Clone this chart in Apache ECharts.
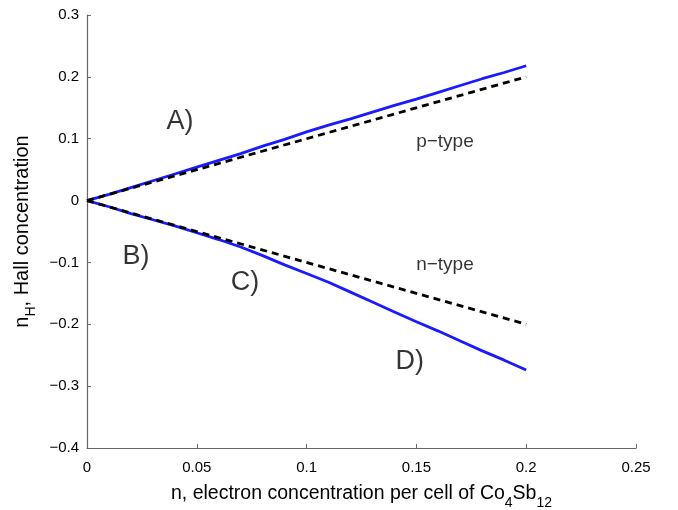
<!DOCTYPE html>
<html>
<head>
<meta charset="utf-8">
<script src="https://cdn.jsdelivr.net/npm/echarts@6/dist/echarts.min.js"></script>
<style>
  html, body { margin: 0; padding: 0; background: #fff; }
  #chart { width: 678px; height: 510px; }
</style>
</head>
<body>
<div id="chart"></div>
<script>
// Electron concentration per cell (x)
const nValues = [0, 0.01, 0.02, 0.03, 0.04, 0.05, 0.06, 0.07, 0.08, 0.09, 0.10,
                 0.11, 0.12, 0.13, 0.14, 0.15, 0.16, 0.17, 0.18, 0.19, 0.20];
// Computed Hall concentration, p-type branch (A)
const hallP = [0, 0.010, 0.021, 0.032, 0.043, 0.054, 0.065, 0.076, 0.088, 0.099, 0.111,
               0.122, 0.132, 0.143, 0.154, 0.164, 0.175, 0.186, 0.197, 0.207, 0.218];
// Computed Hall concentration, n-type branch (B -> C -> D)
const hallN = [0, -0.010, -0.021, -0.031, -0.041, -0.052, -0.063, -0.075, -0.089, -0.104, -0.118,
               -0.132, -0.148, -0.164, -0.180, -0.196, -0.211, -0.227, -0.243, -0.258, -0.274];
// Reference lines n_H = ±n
const refX = [0, 0.2];
const refP = [0, 0.2];
const refN = [0, -0.2];

// Axis ranges and ticks
const xTicks = [0, 0.05, 0.1, 0.15, 0.2, 0.25];
const yTicks = [-0.4, -0.3, -0.2, -0.1, 0, 0.1, 0.2, 0.3];

// Annotation texts placed in data units
const notes = [
  { text: 'A)', x: 0.0424, y: 0.127, size: 27 },
  { text: 'B)', x: 0.0223, y: -0.091, size: 27 },
  { text: 'C)', x: 0.072, y: -0.132, size: 27 },
  { text: 'D)', x: 0.147, y: -0.261, size: 27 },
  { text: 'p\u2212type', x: 0.163, y: 0.095, size: 19 },
  { text: 'n\u2212type', x: 0.163, y: -0.104, size: 19 }
];

const FONT = '"Liberation Sans", Arial, Helvetica, sans-serif';
const fmt = v => {
  const s = String(Math.round(v * 100) / 100);
  return s.replace('-', '\u2212');
};
const zip = (xs, ys) => xs.map((x, i) => [x, ys[i]]);

const titleRich = size => ({
  m: { fontFamily: FONT, fontSize: size, color: '#000', lineHeight: size + 6, verticalAlign: 'top' },
  s: { fontFamily: FONT, fontSize: Math.round(size * 0.72), color: '#000', lineHeight: size + 6,
       verticalAlign: 'top', padding: [Math.round(size * 0.6), 0, 0, 0] }
});

const chart = echarts.init(document.getElementById('chart'), null, { renderer: 'canvas' });

chart.setOption({
  animation: false,
  backgroundColor: '#ffffff',
  grid: { left: 87, right: 42, top: 15, bottom: 62, containLabel: false, outerBoundsMode: 'none' },
  xAxis: {
    type: 'value',
    min: xTicks[0], max: xTicks[xTicks.length - 1], interval: 0.05,
    axisLine: { show: true, onZero: false, lineStyle: { color: '#666', width: 1.2 } },
    axisTick: { show: true, inside: true, length: 4, lineStyle: { color: '#666' } },
    splitLine: { show: false },
    axisLabel: { color: '#000', fontFamily: FONT, fontSize: 15, margin: 12, formatter: fmt },
    name: '{m|n, electron concentration per cell of Co}{s|4}{m|Sb}{s|12}',
    nameLocation: 'middle', nameGap: 36,
    nameTextStyle: { fontFamily: FONT, color: '#000', rich: titleRich(19.5) }
  },
  yAxis: {
    type: 'value',
    min: yTicks[0], max: yTicks[yTicks.length - 1], interval: 0.1,
    axisLine: { show: true, onZero: false, lineStyle: { color: '#666', width: 1.2 } },
    axisTick: { show: true, inside: true, length: 4, lineStyle: { color: '#666' } },
    splitLine: { show: false },
    axisLabel: { color: '#000', fontFamily: FONT, fontSize: 15, margin: 8, formatter: fmt },
    name: '{m|n}{s|H}{m|, Hall concentration}',
    nameLocation: 'middle', nameRotate: 90, nameGap: 42,
    nameTextStyle: { fontFamily: FONT, color: '#000', rich: titleRich(20) }
  },
  series: [
    {
      name: 'p-type', type: 'line', data: zip(nValues, hallP),
      showSymbol: false, symbol: 'none', smooth: false,
      lineStyle: { color: '#1a1aff', width: 2.8 }, z: 3
    },
    {
      name: 'n-type', type: 'line', data: zip(nValues, hallN),
      showSymbol: false, symbol: 'none', smooth: false,
      lineStyle: { color: '#1a1aff', width: 2.8 }, z: 3
    },
    {
      name: 'ref p', type: 'line', data: zip(refX, refP),
      showSymbol: false, symbol: 'none',
      lineStyle: { color: '#000', width: 2.8, type: [7, 5], cap: 'butt' }, z: 4
    },
    {
      name: 'ref n', type: 'line', data: zip(refX, refN),
      showSymbol: false, symbol: 'none',
      lineStyle: { color: '#000', width: 2.8, type: [7, 5], cap: 'butt' }, z: 4
    },
    {
      name: 'notes', type: 'scatter', symbolSize: 0, silent: true,
      data: notes.map(d => ({
        value: [d.x, d.y],
        label: {
          show: true, position: 'inside', formatter: d.text,
          fontFamily: FONT, fontSize: d.size, color: '#000'
        }
      })),
      z: 5
    }
  ]
});
</script>
</body>
</html>
